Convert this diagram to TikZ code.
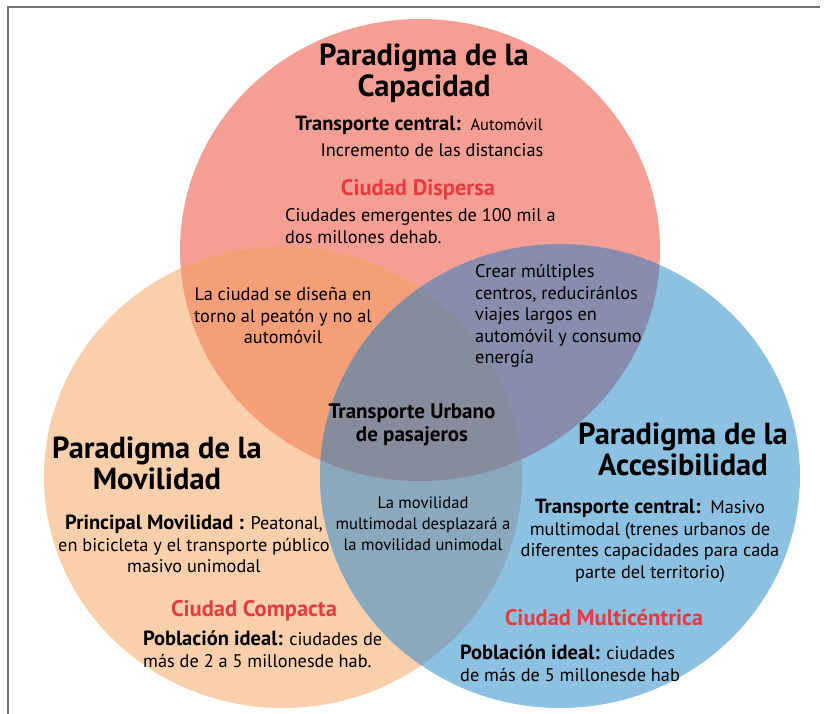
\documentclass[tikz,border=0pt]{standalone}
\usepackage{fontspec}
\setmainfont{PT Sans}
\usepackage{xcolor}
\usepackage{tikz}
\usetikzlibrary{positioning}

\definecolor{capcol}{HTML}{F59E94}
\definecolor{movcol}{HTML}{F9CFAC}
\definecolor{acccol}{HTML}{8DC1E2}
\definecolor{capmov}{HTML}{F59F78}
\definecolor{capacc}{HTML}{888DAD}
\definecolor{movacc}{HTML}{8AA9BE}
\definecolor{trescol}{HTML}{878C9C}
\definecolor{ciudadrojo}{HTML}{E63C3F}

\newcommand{\elCap}{(420,250) ellipse [x radius=240pt, y radius=231pt]}
\newcommand{\elMov}{(283,477) ellipse [x radius=239pt, y radius=231pt]}
\newcommand{\elAcc}{(560,476) ellipse [x radius=240pt, y radius=232pt]}
\newcommand{\negrita}[1]{{\bfseries\fontsize{20.5}{21.5}\selectfont #1}}

\tikzset{
  paradigma/.style={font=\bfseries\fontsize{30.5}{31}\selectfont, align=center, inner sep=0pt},
  texto/.style={font=\fontsize{18.3}{21.5}\selectfont, inner sep=0pt},
  ciudad/.style={font=\bfseries\fontsize{22.5}{24}\selectfont, text=ciudadrojo, inner sep=0pt},
}

\begin{document}
\begin{tikzpicture}[x=1pt,y=-1pt]
  \useasboundingbox (0,0) rectangle (831,714);

  % circles and overlaps
  \fill[capcol] \elCap;
  \fill[movcol] \elMov;
  \fill[acccol] \elAcc;
  \begin{scope}
    \clip \elCap;
    \fill[capmov] \elMov;
    \fill[capacc] \elAcc;
  \end{scope}
  \begin{scope}
    \clip \elMov;
    \fill[movacc] \elAcc;
    \clip \elCap;
    \fill[trescol] \elAcc;
  \end{scope}

  % frame
  \draw[black!55, line width=1.2pt] (8,714) -- (8,7) -- (820,7);

  % capacidad
  \node[paradigma] (capTitulo) at (424,73) {Paradigma de la\\Capacidad};
  \node[texto] (capTransporte) at (419,125) {\negrita{Transporte central:}\ \ {\fontsize{16.5}{18}\selectfont Automóvil}};
  \node[texto] (capDistancias) at (432,150) {Incremento de las distancias};
  \node[ciudad] (capCiudad) at (418,190) {Ciudad Dispersa};
  \node[texto, anchor=west, align=left] (capPoblacion) at (285,226) {Ciudades emergentes de 100 mil a\\dos millones dehab.};

  % intersecciones
  \node[texto, align=center] (capmovTexto) at (283,316) {La ciudad se diseña en\\torno al peatón y no al\\automóvil};
  \node[texto, anchor=west, align=left] (capaccTexto) at (475,316) {Crear múltiples\\centros, reducir\'anlos\\viajes largos en\\automóvil y consumo\\energía};
  \node[texto, font=\bfseries\fontsize{21}{23}\selectfont, align=center] (centroTexto) at (412,425) {Transporte Urbano\\de pasajeros};
  \node[texto, font=\fontsize{16.6}{21}\selectfont, align=center] (movaccTexto) at (423,524) {La movilidad\\multimodal desplazará a\\la movilidad unimodal};

  % movilidad
  \node[paradigma] (movTitulo) at (157,463) {Paradigma de la\\Movilidad};
  \node[texto, align=center] (movPrincipal) at (194,544) {\negrita{Principal Movilidad :} Peatonal,\\en bicicleta y el transporte público\\masivo unimodal};
  \node[ciudad] (movCiudad) at (254,611) {Ciudad Compacta};
  \node[texto, anchor=west, align=left] (movPoblacion) at (143,649) {\negrita{Población ideal:} ciudades de\\más de 2 a 5 millonesde hab.};

  % accesibilidad
  \node[paradigma] (accTitulo) at (683,449) {Paradigma de la\\Accesibilidad};
  \node[texto, align=center] (accTransporte) at (650,541) {\negrita{Transporte central:}\ \ Masivo\\multimodal (trenes urbanos de\\diferentes capacidades para cada\\parte del territorio)};
  \node[ciudad] (accCiudad) at (604,618) {Ciudad Multicéntrica};
  \node[texto, anchor=west, align=left] (accPoblacion) at (460,663) {\negrita{Población ideal:} ciudades\\de más de 5 millonesde hab};
\end{tikzpicture}
\end{document}
